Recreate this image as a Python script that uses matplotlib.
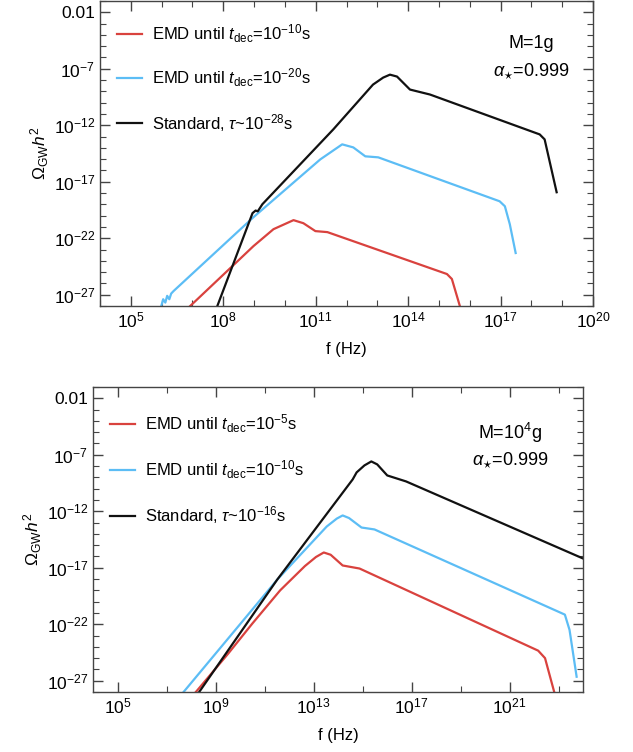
import numpy as np
import matplotlib.pyplot as plt
from matplotlib.ticker import FixedLocator, FixedFormatter

plt.rcParams['font.family'] = ['Liberation Sans', 'DejaVu Sans']
plt.rcParams['mathtext.fontset'] = 'custom'
plt.rcParams['mathtext.rm'] = 'Liberation Sans'
plt.rcParams['mathtext.it'] = 'Liberation Sans:italic'
plt.rcParams['mathtext.bf'] = 'Liberation Sans:bold'

RED = '#d9423e'
BLUE = '#5cbdf5'
BLACK = '#111111'

# --- M = 1 g (log10 f, log10 Omega h^2) ---
m1_red_lgf = [6.85, 8.30, 8.98, 9.63, 10.28, 10.60, 10.99, 11.38, 15.26, 15.42, 15.70]
m1_red_lgo = [-28.2, -24.46, -22.70, -21.20, -20.40, -20.67, -21.37, -21.46, -25.17, -25.61, -28.2]

m1_blue_lgf = [5.97, 6.05, 6.12, 6.18, 6.25, 6.31, 6.39, 8.98, 11.15, 11.86, 12.22, 12.61, 13.03,
               16.97, 17.14, 17.30, 17.49]
m1_blue_lgo = [-28.2, -27.4, -27.7, -27.1, -27.4, -26.9, -26.67, -20.14, -15.02, -13.69, -13.96,
               -14.75, -14.84, -18.73, -19.17, -20.76, -23.31]

m1_black_lgf = [7.78, 8.95, 9.05, 9.12, 9.27, 11.57, 12.86, 13.19, 13.41, 13.64, 14.06, 14.71,
                18.27, 18.43, 18.82]
m1_black_lgo = [-28.2, -19.78, -19.55, -19.62, -18.99, -12.37, -8.40, -7.78, -7.52, -7.69, -8.84,
                -9.28, -12.81, -13.25, -17.93]

# --- M = 1e4 g ---
m4_red_lgf = [8.12, 9.50, 10.50, 11.64, 12.65, 13.10, 13.42, 13.70, 14.19, 14.88, 22.17, 22.45,
              22.85]
m4_red_lgo = [-28.2, -24.65, -21.95, -19.0, -16.85, -16.05, -15.65, -15.85, -16.80, -17.07,
              -24.34, -25.0, -28.2]

m4_blue_lgf = [7.62, 11.52, 13.54, 13.95, 14.19, 14.45, 14.96, 15.49, 23.26, 23.45, 23.74]
m4_blue_lgo = [-28.2, -18.05, -13.35, -12.65, -12.37, -12.60, -13.44, -13.61, -21.15, -22.5,
               -26.65]

m4_black_lgf = [8.27, 11.52, 14.60, 14.76, 15.08, 15.36, 15.60, 16.01, 16.78, 24.0]
m4_black_lgo = [-28.2, -18.05, -9.18, -8.56, -7.94, -7.59, -7.85, -8.83, -9.36, -16.18]

m1_labels = [r'EMD until $t_{\rm dec}$=10$^{-10}$s',
             r'EMD until $t_{\rm dec}$=10$^{-20}$s',
             r'Standard, $\tau$~10$^{-28}$s']
m4_labels = [r'EMD until $t_{\rm dec}$=10$^{-5}$s',
             r'EMD until $t_{\rm dec}$=10$^{-10}$s',
             r'Standard, $\tau$~10$^{-16}$s']

y_major = [-27, -22, -17, -12, -7, -2]
y_major_lab = [r'$10^{-27}$', r'$10^{-22}$', r'$10^{-17}$', r'$10^{-12}$', r'$10^{-7}$', '0.01']


def setup(ax, xmin, xmax, xmaj, xmin_ticks):
    ax.set_xscale('log')
    ax.set_yscale('log')
    ax.set_xlim(10.0**xmin, 10.0**xmax)
    ax.set_ylim(1e-28, 1e-1)
    ax.xaxis.set_major_locator(FixedLocator([10.0**e for e in xmaj]))
    ax.xaxis.set_major_formatter(FixedFormatter([r'$10^{%d}$' % e for e in xmaj]))
    ax.xaxis.set_minor_locator(FixedLocator([10.0**e for e in xmin_ticks]))
    ax.yaxis.set_major_locator(FixedLocator([10.0**e for e in y_major]))
    ax.yaxis.set_major_formatter(FixedFormatter(y_major_lab))
    ax.yaxis.set_minor_locator(FixedLocator([10.0**e for e in range(-28, 0)]))
    ax.xaxis.set_minor_formatter(FixedFormatter([]))
    ax.yaxis.set_minor_formatter(FixedFormatter([]))
    ax.tick_params(which='both', direction='in', top=True, right=True, colors='#444444',
                   labelcolor='black', labelsize=12.5)
    ax.tick_params(which='major', length=7, width=1)
    ax.tick_params(which='minor', length=4, width=0.8)
    for s in ax.spines.values():
        s.set_color('#444444')
        s.set_linewidth(1.0)
    ax.set_xlabel('f (Hz)', fontsize=12, labelpad=8)
    ax.set_ylabel(r'$\Omega_{\rm GW}h^2$', fontsize=12.5, labelpad=2)


def draw(ax, curves, labels, top, spacing):
    for (lgf, lgo, c), lab in zip(curves, labels):
        ax.plot(10.0**np.array(lgf), 10.0**np.array(lgo), color=c, lw=1.6, label=lab)
    ax.legend(loc='upper left', bbox_to_anchor=(0.005, top), frameon=False, fontsize=12,
              handlelength=1.45, handletextpad=0.65, labelspacing=spacing, borderaxespad=0.5)


fig = plt.figure(figsize=(6.33, 7.52), dpi=100)
ax1 = fig.add_axes([100 / 633, 1 - 306 / 752, 493 / 633, 305 / 752])
ax2 = fig.add_axes([93 / 633, 1 - 692 / 752, 490 / 633, 305 / 752])

setup(ax1, 4, 20, [5, 8, 11, 14, 17, 20], range(4, 21))
draw(ax1, [(m1_red_lgf, m1_red_lgo, RED), (m1_blue_lgf, m1_blue_lgo, BLUE),
           (m1_black_lgf, m1_black_lgo, BLACK)], m1_labels, 0.98, 1.33)
ax1.text(0.874, 0.862, 'M=1g', transform=ax1.transAxes, ha='center', va='center', fontsize=13)
ax1.text(0.874, 0.770, r'$\alpha_{\star}$=0.999', transform=ax1.transAxes, ha='center',
         va='center', fontsize=13)

setup(ax2, 4, 24, [5, 9, 13, 17, 21], range(5, 24, 2))
draw(ax2, [(m4_red_lgf, m4_red_lgo, RED), (m4_blue_lgf, m4_blue_lgo, BLUE),
           (m4_black_lgf, m4_black_lgo, BLACK)], m4_labels, 0.965, 1.4)
ax2.text(0.851, 0.849, r'M=10$^4$g', transform=ax2.transAxes, ha='center', va='center',
         fontsize=13)
ax2.text(0.851, 0.761, r'$\alpha_{\star}$=0.999', transform=ax2.transAxes, ha='center',
         va='center', fontsize=13)

fig.savefig('out.png', dpi=100)
